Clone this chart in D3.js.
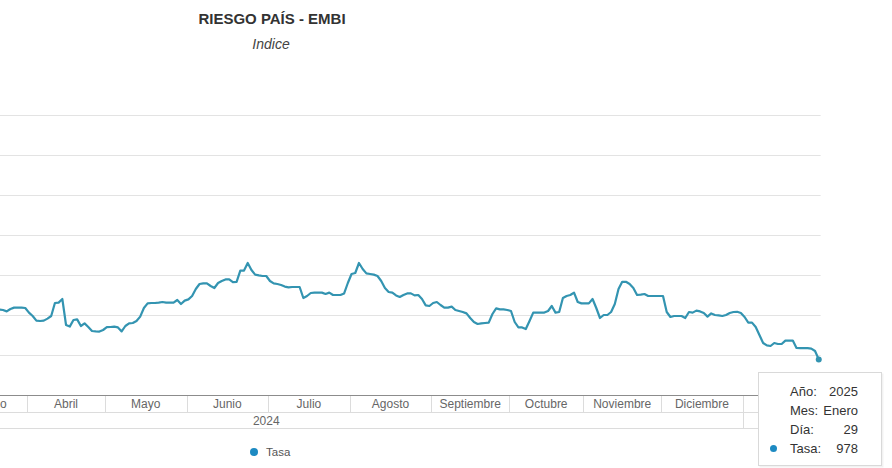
<!DOCTYPE html>
<html>
<head>
<meta charset="utf-8">
<title>Riesgo País - EMBI</title>
<script src="https://cdnjs.cloudflare.com/ajax/libs/d3/7.8.5/d3.min.js"></script>
<style>
  body {
    margin: 0;
    background: #fff;
    font-family: "Liberation Sans", Arial, sans-serif;
  }

  svg {
    display: block;
  }

  .grid line {
    stroke: #e3e3e3;
    stroke-width: 1;
  }

  .cells line {
    stroke: #dcdcdc;
    stroke-width: 1;
  }

  .cells text {
    font-size: 12px;
    fill: #666;
    text-anchor: middle;
  }
</style>
</head>
<body>
<div id="chart"></div>
<script>
  // categorias del eje (mes / anio) y numero de puntos de cada mes
  var meses = ["Enero", "Febrero", "Marzo", "Abril", "Mayo", "Junio", "Julio", "Agosto",
    "Septiembre", "Octubre", "Noviembre", "Diciembre", "Enero"];
  var anios = [2024, 2024, 2024, 2024, 2024, 2024, 2024, 2024, 2024, 2024, 2024, 2024, 2025];
  var puntosPorMes = [23, 21, 20, 21, 22, 22, 22, 22, 21, 20, 21, 22, 21];

  // Tasa (indice EMBI), solo la parte visible de cada mes
  var tasaEnero2024 = [];
  var tasaFebrero = [];
  var tasaMarzo = [1230, 1228, 1225, 1218, 1230, 1237, 1237, 1237, 1235];
  var tasaAbril = [1212, 1195, 1172, 1170, 1172, 1182, 1195, 1260, 1262, 1280, 1150,
    1142, 1175, 1178, 1145, 1158, 1140, 1120, 1118, 1117, 1125];
  var tasaMayo = [1139, 1140, 1142, 1138, 1118, 1145, 1158, 1160, 1170, 1192, 1235,
    1258, 1260, 1260, 1262, 1265, 1262, 1262, 1262, 1275, 1255, 1272];
  var tasaJunio = [1278, 1295, 1330, 1355, 1358, 1358, 1345, 1335, 1360, 1370, 1378,
    1378, 1364, 1366, 1422, 1422, 1460, 1425, 1402, 1398, 1395, 1395];
  var tasaJulio = [1370, 1358, 1355, 1350, 1342, 1338, 1340, 1340, 1340, 1285, 1295,
    1310, 1312, 1312, 1312, 1305, 1312, 1300, 1300, 1300, 1308, 1360];
  var tasaAgosto = [1405, 1410, 1460, 1430, 1408, 1405, 1402, 1395, 1370, 1335, 1315,
    1312, 1298, 1290, 1300, 1308, 1308, 1298, 1300, 1280, 1248, 1245];
  var tasaSeptiembre = [1260, 1265, 1250, 1237, 1237, 1242, 1225, 1220, 1215, 1208, 1185,
    1165, 1155, 1158, 1160, 1162, 1205, 1233, 1228, 1228, 1225];
  var tasaOctubre = [1220, 1165, 1138, 1138, 1130, 1170, 1212, 1212, 1212, 1212,
    1220, 1245, 1212, 1215, 1285, 1295, 1300, 1312, 1265, 1258];
  var tasaNoviembre = [1258, 1258, 1280, 1235, 1185, 1200, 1200, 1215, 1255, 1330, 1366,
    1366, 1355, 1335, 1300, 1302, 1305, 1295, 1295, 1295, 1295];
  var tasaDiciembre = [1295, 1215, 1190, 1195, 1195, 1195, 1185, 1215, 1212, 1222, 1218,
    1210, 1192, 1208, 1200, 1198, 1195, 1200, 1210, 1215, 1216, 1210];
  var tasaEnero = [1190, 1162, 1162, 1140, 1100, 1060, 1048, 1045, 1060, 1055, 1055,
    1072, 1072, 1072, 1035, 1034, 1034, 1034, 1032, 1020, 978];

  var tasaPorMes = [tasaEnero2024, tasaFebrero, tasaMarzo, tasaAbril, tasaMayo, tasaJunio,
    tasaJulio, tasaAgosto, tasaSeptiembre, tasaOctubre, tasaNoviembre, tasaDiciembre, tasaEnero];

  var yTicks = [800, 1000, 1200, 1400, 1600, 1800, 2000, 2200];

  var tooltipEtiquetas = ["Año:", "Mes:", "Día:", "Tasa:"];
  var tooltipValores = ["2025", "Enero", "29", "978"];

  var width = 892;
  var height = 468;
  var lineColor = "#3394b1";
  var dotColor = "#1d8ac2";

  // el grafico original esta recortado a la izquierda
  var plotLeft = -210.2;
  var plotRight = 820.6;
  var plotTop = 115;
  var plotBottom = 395;

  // armar los puntos: cada mes llena sus ultimas posiciones
  var puntos = [];
  var celdas = [];
  var inicio = 0;
  meses.forEach(function(m, k) {
    var n = puntosPorMes[k];
    var vals = tasaPorMes[k];
    celdas.push({ mes: m, anio: anios[k], ini: inicio, fin: inicio + n });
    vals.forEach(function(v, j) {
      puntos.push({ i: inicio + n - vals.length + j, v: v });
    });
    inicio = inicio + n;
  });
  var total = inicio;

  var x = d3.scaleLinear().domain([0, total]).range([plotLeft, plotRight]);
  var y = d3.scaleLinear().domain([d3.min(yTicks), d3.max(yTicks)]).range([plotBottom, plotTop]);

  var vis = d3.select("#chart")
    .append("svg")
    .attr("width", width)
    .attr("height", height);

  // titulo
  vis.append("text")
    .attr("x", 272)
    .attr("y", 23.5)
    .attr("text-anchor", "middle")
    .attr("font-size", "15px")
    .attr("font-weight", "bold")
    .attr("fill", "#333")
    .text("RIESGO PAÍS - EMBI");

  vis.append("text")
    .attr("x", 271)
    .attr("y", 48.5)
    .attr("text-anchor", "middle")
    .attr("font-size", "14px")
    .attr("font-style", "italic")
    .attr("fill", "#444")
    .text("Indice");

  // grilla horizontal
  var grid = vis.append("g").attr("class", "grid");
  grid.selectAll("line")
    .data(yTicks.filter(function(t) { return t > d3.min(yTicks); }))
    .enter()
    .append("line")
    .attr("x1", Math.max(0, x(0)))
    .attr("x2", x(total))
    .attr("y1", function(d) { return Math.round(y(d)) + 0.5; })
    .attr("y2", function(d) { return Math.round(y(d)) + 0.5; });

  // eje de categorias en dos filas (mes / anio)
  var rowMes = plotBottom + 17;
  var rowAnio = rowMes + 16;
  var cells = vis.append("g").attr("class", "cells");

  cells.append("line")
    .attr("x1", 0).attr("x2", x(total))
    .attr("y1", rowMes + 0.5).attr("y2", rowMes + 0.5);
  cells.append("line")
    .attr("x1", 0).attr("x2", x(total))
    .attr("y1", rowAnio + 0.5).attr("y2", rowAnio + 0.5);

  cells.selectAll("line.sepMes")
    .data(celdas)
    .enter()
    .append("line")
    .attr("class", "sepMes")
    .attr("x1", function(d) { return Math.round(x(d.ini)) + 0.5; })
    .attr("x2", function(d) { return Math.round(x(d.ini)) + 0.5; })
    .attr("y1", plotBottom)
    .attr("y2", rowMes);

  // solo etiquetas que caen dentro de la vista
  cells.selectAll("text.mes")
    .data(celdas.filter(function(d) { return x(d.fin) > 0; }))
    .enter()
    .append("text")
    .attr("class", "mes")
    .attr("x", function(d) { return x((d.ini + d.fin) / 2); })
    .attr("y", plotBottom + 12.5)
    .text(function(d) { return d.mes; });

  var grupos = d3.rollups(celdas, function(v) {
    return { ini: d3.min(v, function(c) { return c.ini; }), fin: d3.max(v, function(c) { return c.fin; }) };
  }, function(c) { return c.anio; });

  cells.selectAll("line.sepAnio")
    .data(grupos)
    .enter()
    .append("line")
    .attr("class", "sepAnio")
    .attr("x1", function(d) { return Math.round(x(d[1].ini)) + 0.5; })
    .attr("x2", function(d) { return Math.round(x(d[1].ini)) + 0.5; })
    .attr("y1", rowMes)
    .attr("y2", rowAnio);

  cells.selectAll("text.anio")
    .data(grupos)
    .enter()
    .append("text")
    .attr("class", "anio")
    .attr("x", function(d) { return x((d[1].ini + d[1].fin) / 2); })
    .attr("y", rowMes + 12.5)
    .text(function(d) { return d[0]; });

  // linea del eje
  vis.append("line")
    .attr("x1", 0)
    .attr("x2", x(total))
    .attr("y1", plotBottom + 0.5)
    .attr("y2", plotBottom + 0.5)
    .attr("stroke", "#8c8c8c")
    .attr("stroke-width", 1);

  // serie
  var linea = d3.line()
    .x(function(d) { return x(d.i + 0.5); })
    .y(function(d) { return y(d.v); });

  vis.append("path")
    .datum(puntos)
    .attr("d", linea)
    .attr("fill", "none")
    .attr("stroke", lineColor)
    .attr("stroke-width", 2.2)
    .attr("stroke-linejoin", "round");

  var ultimo = puntos[puntos.length - 1];
  vis.append("circle")
    .attr("cx", x(ultimo.i + 0.5))
    .attr("cy", y(ultimo.v))
    .attr("r", 3)
    .attr("fill", lineColor);

  // leyenda
  vis.append("circle")
    .attr("cx", 254)
    .attr("cy", 452)
    .attr("r", 4)
    .attr("fill", dotColor);

  vis.append("text")
    .attr("x", 266)
    .attr("y", 456)
    .attr("font-size", "11.5px")
    .attr("fill", "#555")
    .text("Tasa");

  // tooltip del ultimo punto
  var tip = vis.append("g").attr("transform", "translate(758,372)");

  tip.append("rect")
    .attr("x", 1.5)
    .attr("y", 1.5)
    .attr("width", 124)
    .attr("height", 94)
    .attr("fill", "#000")
    .attr("opacity", 0.05);

  tip.append("rect")
    .attr("x", 0.5)
    .attr("y", 0.5)
    .attr("width", 123)
    .attr("height", 93)
    .attr("fill", "#fff")
    .attr("stroke", "#d9d9d9");

  tip.selectAll("text.lab")
    .data(tooltipEtiquetas)
    .enter()
    .append("text")
    .attr("class", "lab")
    .attr("x", 32)
    .attr("y", function(d, k) { return 24 + k * 19; })
    .attr("font-size", "13px")
    .attr("fill", "#333")
    .text(function(d) { return d; });

  tip.selectAll("text.val")
    .data(tooltipValores)
    .enter()
    .append("text")
    .attr("class", "val")
    .attr("x", 100)
    .attr("y", function(d, k) { return 24 + k * 19; })
    .attr("text-anchor", "end")
    .attr("font-size", "13px")
    .attr("fill", "#333")
    .text(function(d) { return d; });

  tip.append("circle")
    .attr("cx", 15.5)
    .attr("cy", 76.5)
    .attr("r", 3.5)
    .attr("fill", dotColor);
</script>
</body>
</html>
